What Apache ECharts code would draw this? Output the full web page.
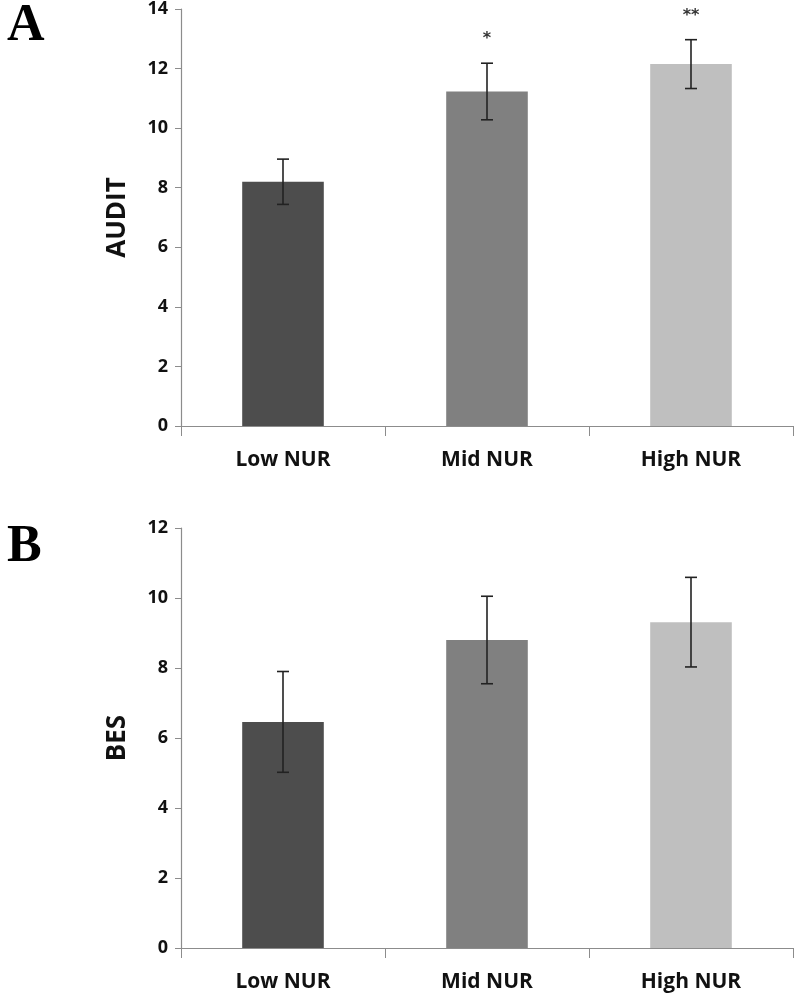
<!DOCTYPE html>
<html>
<head>
<meta charset="utf-8">
<script src="https://cdn.jsdelivr.net/npm/echarts@6/dist/echarts.min.js"></script>
<style>
html,body{margin:0;padding:0;background:#fff;}
#chart{width:800px;height:1000px;}
</style>
</head>
<body>
<div id="chart"></div>
<script>
const categories = ["Low NUR", "Mid NUR", "High NUR"];
const barColors = ["#4d4d4d", "#808080", "#bfbfbf"];

const auditMeans = [8.2, 11.23, 12.15];
const auditErrors = [0.76, 0.95, 0.82];
const auditSig = ["", "*", "**"];

const besMeans = [6.46, 8.8, 9.31];
const besErrors = [1.44, 1.25, 1.28];
const besSig = ["", "", ""];

const auditTicks = { min: 0, max: 14, interval: 2 };
const besTicks = { min: 0, max: 12, interval: 2 };

const chart = echarts.init(document.getElementById('chart'), null, { renderer: 'canvas' });

function errData(means, errs, sig) {
  return means.map((m, i) => [i, m - errs[i], m + errs[i], sig[i]]);
}

function errRender(params, api) {
  const x = api.value(0);
  const lo = api.coord([x, api.value(1)]);
  const hi = api.coord([x, api.value(2)]);
  const cap = 6;
  const style = { stroke: '#222', lineWidth: 1.6 };
  const children = [
    { type: 'line', shape: { x1: hi[0], y1: hi[1], x2: lo[0], y2: lo[1] }, style },
    { type: 'line', shape: { x1: hi[0] - cap, y1: hi[1], x2: hi[0] + cap, y2: hi[1] }, style },
    { type: 'line', shape: { x1: lo[0] - cap, y1: lo[1], x2: lo[0] + cap, y2: lo[1] }, style }
  ];
  const s = api.value(3);
  if (s) {
    children.push({
      type: 'text',
      style: {
        text: s, x: hi[0], y: hi[1] - 24, align: 'center', verticalAlign: 'middle',
        fill: '#333', font: 'bold 16px "DejaVu Sans"'
      }
    });
  }
  return { type: 'group', children };
}

const fam = '"Open Sans", "Liberation Sans", sans-serif';
const tickLabelStyle = { color: '#111', fontSize: 18, fontWeight: 'bold', fontFamily: fam };
const catLabelStyle = { color: '#111', fontSize: 21, fontWeight: 'bold', fontFamily: fam, margin: 24 };
const axisLine = { show: true, lineStyle: { color: '#8c8c8c', width: 1.2 } };

function xAxis(gi) {
  return {
    type: 'category', gridIndex: gi, data: categories,
    axisLine, axisTick: { show: true, length: 10, lineStyle: { color: '#8c8c8c' } },
    axisLabel: catLabelStyle
  };
}
function yAxis(gi, t, name) {
  return {
    type: 'value', gridIndex: gi, min: t.min, max: t.max, interval: t.interval,
    splitLine: { show: false }, axisLine, axisTick: { show: true, length: 6, lineStyle: { color: '#8c8c8c' } },
    axisLabel: Object.assign({ margin: 13 }, tickLabelStyle),
    name, nameLocation: 'middle', nameGap: 50, nameRotate: 90,
    nameTextStyle: { color: '#111', fontSize: 26, fontWeight: 'bold', fontFamily: fam }
  };
}

chart.setOption({
  animation: false,
  backgroundColor: '#fff',
  title: [
    { text: 'A', left: 2, top: -4, textStyle: { fontFamily: '"Liberation Serif", serif', fontSize: 52, fontWeight: 'bold', color: '#000' } },
    { text: 'B', left: 2, top: 517, textStyle: { fontFamily: '"Liberation Serif", serif', fontSize: 52, fontWeight: 'bold', color: '#000' } }
  ],
  grid: [
    { left: 181, right: 7, top: 6, height: 420 },
    { left: 181, right: 7, top: 528, height: 420 }
  ],
  xAxis: [xAxis(0), xAxis(1)],
  yAxis: [yAxis(0, auditTicks, 'AUDIT'), yAxis(1, besTicks, 'BES')],
  series: [
    {
      type: 'bar', xAxisIndex: 0, yAxisIndex: 0, barWidth: '40%',
      data: auditMeans.map((v, i) => ({ value: v, itemStyle: { color: barColors[i] } }))
    },
    {
      type: 'custom', xAxisIndex: 0, yAxisIndex: 0, renderItem: errRender,
      data: errData(auditMeans, auditErrors, auditSig), z: 10
    },
    {
      type: 'bar', xAxisIndex: 1, yAxisIndex: 1, barWidth: '40%',
      data: besMeans.map((v, i) => ({ value: v, itemStyle: { color: barColors[i] } }))
    },
    {
      type: 'custom', xAxisIndex: 1, yAxisIndex: 1, renderItem: errRender,
      data: errData(besMeans, besErrors, besSig), z: 10
    }
  ]
});
</script>
</body>
</html>
